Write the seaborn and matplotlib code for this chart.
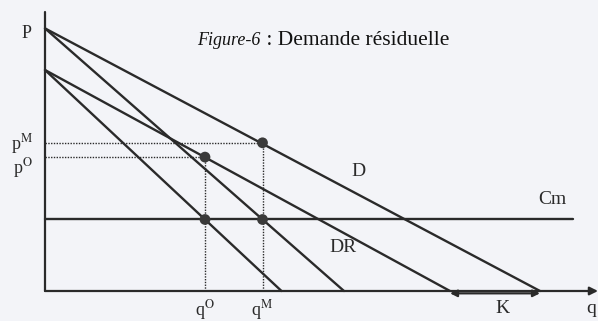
import numpy as np
import pandas as pd
import matplotlib.pyplot as plt
import seaborn as sns

# valeurs (unités arbitraires)
p_max = 101.0          # ordonnée à l'origine de D (P)
p_dr = 85.0            # ordonnée à l'origine de DR
q_d = 99.0             # D coupe l'axe des q
q_dr = 81.0            # DR coupe l'axe des q
q_rm_d = 59.8          # recette marginale de D
q_rm_dr = 47.3         # recette marginale de DR
cm = 27.5              # coût marginal
cm_end = 105.5
q_o, q_m = 32.0, 43.5
p_o, p_m = 51.5, 57.0

lines = {
    'D': ([0, q_d], [p_max, 0]),
    'RmD': ([0, q_rm_d], [p_max, 0]),
    'DR': ([0, q_dr], [p_dr, 0]),
    'RmDR': ([0, q_rm_dr], [p_dr, 0]),
    'Cm': ([0, cm_end], [cm, cm]),
}
pts_q = [q_o, q_o, q_m, q_m]
pts_p = [p_o, cm, p_m, cm]

sns.set_style('white')
plt.rcParams['font.family'] = ['Liberation Serif', 'DejaVu Serif']
plt.rcParams['mathtext.fontset'] = 'stix'

bg = '#f3f4f8'
fig = plt.figure(figsize=(5.98, 3.21), dpi=100, facecolor=bg)
ax = fig.add_axes([0, 0, 1, 1], facecolor=bg)
ax.set_xlim(-9, 110.6)
ax.set_ylim(-11.54, 111.92)
ax.axis('off')

ink = '#2a2a2a'
# axes
ax.plot([0, 0], [0, 107.3], color=ink, lw=1.6)
ax.annotate('', xy=(110.6, 0), xytext=(0, 0),
            arrowprops=dict(arrowstyle='-|>', color=ink, lw=1.6, mutation_scale=12,
                            shrinkA=0, shrinkB=0))

for name, (xs, ys) in lines.items():
    sns.lineplot(x=xs, y=ys, ax=ax, color=ink, lw=1.7)

# pointillés
dot = dict(color=ink, lw=1.0, ls=(0, (1, 1)))
ax.plot([0, q_m], [p_m, p_m], **dot)
ax.plot([0, q_o], [p_o, p_o], **dot)
ax.plot([q_m, q_m], [0, p_m], **dot)
ax.plot([q_o, q_o], [0, p_o], **dot)

sns.scatterplot(x=pts_q, y=pts_p, ax=ax, color='#3a3a3a', s=60, edgecolor='none', zorder=5)

# K
ax.annotate('', xy=(q_d, -0.9), xytext=(q_dr, -0.9),
            arrowprops=dict(arrowstyle='<|-|>', color=ink, lw=1.6, mutation_scale=10,
                            shrinkA=0, shrinkB=0))

fs = 14
ax.text(-3.6, 99.2, 'P', fontsize=13, ha='center', va='center', color=ink)
ax.text(-4.6, 56.5, r'p$^{\mathrm{M}}$', fontsize=13, ha='center', va='center', color=ink)
ax.text(-4.4, 47.3, r'p$^{\mathrm{O}}$', fontsize=13, ha='center', va='center', color=ink)
ax.text(q_o, -7.3, r'q$^{\mathrm{O}}$', fontsize=13, ha='center', va='center', color=ink)
ax.text(q_m, -7.3, r'q$^{\mathrm{M}}$', fontsize=13, ha='center', va='center', color=ink)
ax.text(91.4, -6.6, 'K', fontsize=fs, ha='center', va='center', color=ink)
ax.text(109.2, -6.6, 'q', fontsize=fs, ha='center', va='center', color=ink)
ax.text(62.6, 45.8, 'D', fontsize=fs, ha='center', va='center', color=ink)
ax.text(59.6, 16.9, 'DR', fontsize=fs, ha='center', va='center', color=ink)
ax.text(101.4, 35.0, 'Cm', fontsize=fs, ha='center', va='center', color=ink)

ax.text(43.0, 94.6, 'Figure-6', fontsize=13, style='italic', ha='right',
        va='baseline', color='#111111')
ax.text(43.2, 94.6, ' : Demande résiduelle', fontsize=15.5, ha='left',
        va='baseline', color='#111111')

fig.savefig('out.png', dpi=100, facecolor=bg)
